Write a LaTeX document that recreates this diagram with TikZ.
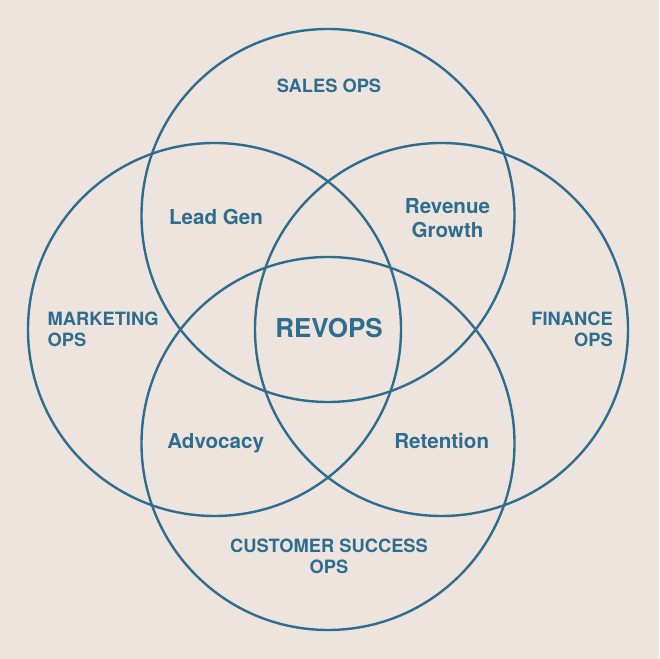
\documentclass[tikz,border=0pt]{standalone}
\usepackage{fontspec}
\setmainfont{TeX Gyre Heros}
\usetikzlibrary{positioning}
\definecolor{bgbeige}{RGB}{237,229,221}
\definecolor{opsblue}{RGB}{46,108,144}
\tikzset{
  % Doiralar
  opscircle/.style = {line width=2.4bp, draw=opsblue},
  % Etiketlar
  opslab/.style    = {font=\fontsize{18.3bp}{21bp}\selectfont\bfseries, text=opsblue, inner sep=0pt},
  midlab/.style    = {font=\fontsize{20.6bp}{24bp}\selectfont\bfseries, text=opsblue, inner sep=0pt},
  corelab/.style   = {font=\fontsize{26bp}{30bp}\selectfont\bfseries, text=opsblue, inner sep=0pt},
}
\begin{document}
\begin{tikzpicture}[x=1bp, y=1bp]
  % Fon
  \fill[bgbeige] (0,0) rectangle (659,659);
  \useasboundingbox (0,0) rectangle (659,659);
  % Markazlar
  \coordinate (sales)    at (328,443.5);
  \coordinate (market)   at (214.5,329.5);
  \coordinate (finance)  at (441.5,329.5);
  \coordinate (customer) at (328,215.5);
  % To'rt doira
  \foreach \c in {sales, market, finance, customer}
    \draw[opscircle] (\c) circle[radius=186.5];
  % Tashqi etiketlar
  \node[opslab, anchor=base] (salesops) at (329,566.3) {SALES OPS};
  \node[opslab, anchor=west, align=left] (marketops) at (47.5,330) {MARKETING\\OPS};
  \node[opslab, anchor=east, align=right] (financeops) at (613,330) {FINANCE\\OPS};
  \node[opslab, align=center] (customerops) at (329,102.5) {CUSTOMER SUCCESS\\OPS};
  % Kesishma etiketlari
  \node[midlab, anchor=base] (leadgen) at (216,434) {Lead Gen};
  \node[midlab, align=center] (revenue) at (447.5,441) {Revenue\\Growth};
  \node[midlab, anchor=base] (advocacy) at (215.7,210.7) {Advocacy};
  \node[midlab, anchor=base] (retention) at (441.7,210.7) {Retention};
  % Markaz
  \node[corelab, anchor=base] (revops) at (329,321.3) {REVOPS};
\end{tikzpicture}
\end{document}
